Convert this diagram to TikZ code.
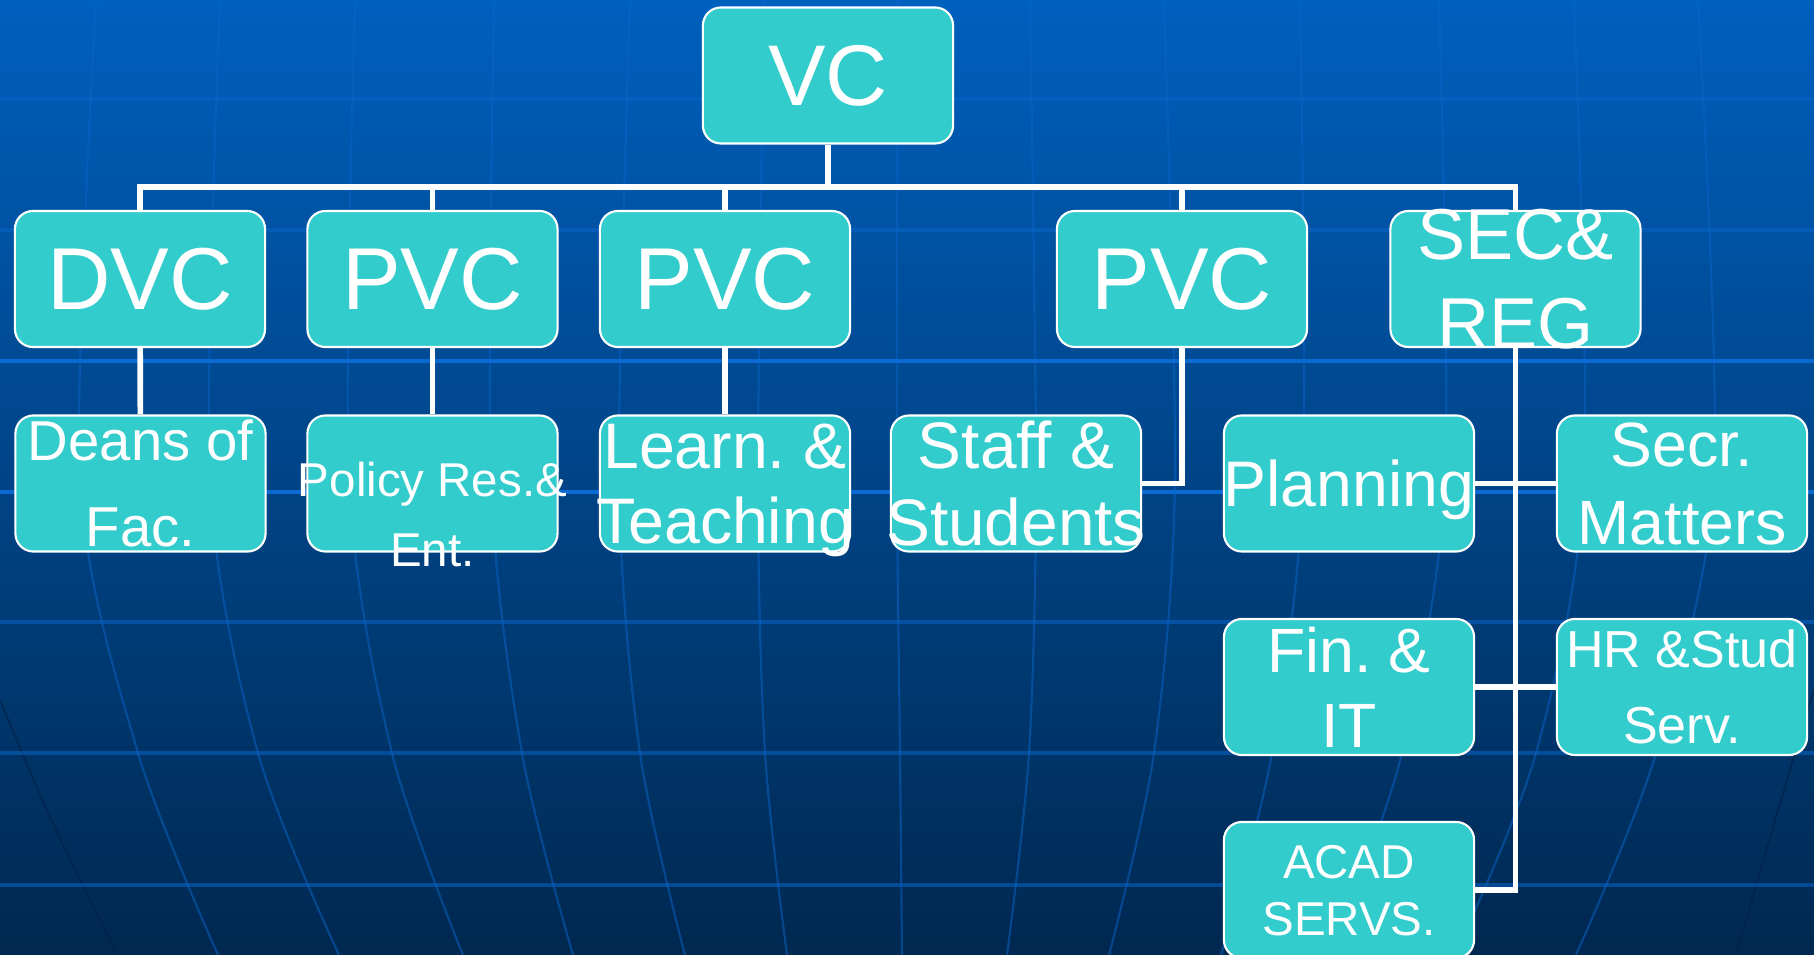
\documentclass[tikz,border=0pt]{standalone}
\usepackage{fontspec}
\setmainfont{Liberation Sans}
\frenchspacing
\definecolor{boxfill}{HTML}{33CCCC}
\definecolor{bgtop}{HTML}{0060BE}
\definecolor{bgbot}{HTML}{002850}
\definecolor{gridln}{HTML}{0A64C8}
\definecolor{gridhi}{HTML}{0A6AD2}
\definecolor{rimln}{HTML}{00224A}
\begin{document}
\begin{tikzpicture}[x=0.01cm,y=-0.01cm,
  box/.style={draw=white,line width=0.6pt,fill=boxfill,rounded corners=0.18cm,
    minimum width=2.5cm,minimum height=1.36cm,inner sep=0pt},
  txt/.style={text=white,align=center,inner sep=0pt,text depth=0pt},
  link/.style={draw=white,line width=1.6pt},
  meridian/.style={gridln,opacity=0.5,line width=0.6pt},
  parallel/.style={gridln,opacity=0.55,line width=0.9pt}]
\useasboundingbox (0,0) rectangle (1814,955);
\shade[top color=bgtop,bottom color=bgbot] (0,0) rectangle (1814,955);
\foreach \a/\b/\c/\d in {96/80/138/218,220/210/258/339,355/349/392/463,
    494/491/522/573,630/619/640/685,764/758/765/787}{
  \draw[meridian] plot[smooth] coordinates {(\a,0) (\b,480) (\c,753) (\d,955)};
  \draw[meridian] plot[smooth] coordinates {({1794-\a},0) ({1794-\b},480) ({1794-\c},753) ({1794-\d},955)};
}
\draw[meridian] plot[smooth] coordinates {(897,0) (897,480) (900,753) (902,955)};
\draw[rimln,opacity=0.7,line width=0.5pt] (0,700) .. controls (50,820) .. (118,955);
\draw[rimln,opacity=0.7,line width=0.5pt] (1814,690) .. controls (1775,820) .. (1736,955);
\foreach \y in {99,230,622,753,885} \draw[parallel] (0,\y) -- (1814,\y);
\foreach \y in {361,492} \draw[gridhi,line width=1.1pt] (0,\y) -- (1814,\y);

\node[box] (vc) at (828,75.5) {};
\node[box] (dvc) at (140,279) {};
\node[box] (pvca) at (432.5,279) {};
\node[box] (pvcb) at (725,279) {};
\node[box] (pvcc) at (1182,279) {};
\node[box] (sec) at (1515.5,279) {};
\node[box] (deans) at (140.5,483.5) {};
\node[box] (pol) at (432.5,483.5) {};
\node[box] (learn) at (725,483.5) {};
\node[box] (staff) at (1016,483.5) {};
\node[box] (plan) at (1349,483.5) {};
\node[box] (secr) at (1682,483.5) {};
\node[box] (fin) at (1349,687) {};
\node[box] (hr) at (1682,687) {};
\node[box] (acad) at (1349,890) {};

\coordinate (bus) at (828,187);
\draw[link] (vc) -- (bus);
\draw[link] (dvc) |- (bus) -| (sec);
\foreach \n in {pvca,pvcb,pvcc} \draw[link] (\n) -- (\n |- bus);
\draw[link] (dvc) -- (deans);
\draw[link] (pvca) -- (pol);
\draw[link] (pvcb) -- (learn);
\draw[link] (pvcc) |- (staff);
\draw[link] (sec) |- (acad);
\draw[link] (plan) -- (secr);
\draw[link] (fin) -- (hr);

\node[txt,font=\fontsize{24.5}{29}\selectfont] (vct) at (vc) {VC};
\node[txt,font=\fontsize{25}{30}\selectfont] (dvct) at (dvc) {DVC};
\node[txt,font=\fontsize{25}{30}\selectfont] (pvcat) at (pvca) {PVC};
\node[txt,font=\fontsize{25}{30}\selectfont] (pvcbt) at (pvcb) {PVC};
\node[txt,font=\fontsize{25}{30}\selectfont] (pvcct) at (pvcc) {PVC};
\node[txt,font=\fontsize{20.5}{25.3}\selectfont] (sect) at (sec) {SEC\&\\REG};
\node[txt,font=\fontsize{16}{24.5}\selectfont] (deanst) at (deans) {Deans of\\Fac.};
\node[txt,font=\fontsize{13.5}{20}\selectfont] (polt) at (432.5,514) {Policy Res.\&\\Ent.};
\node[txt,font=\fontsize{18.3}{21.3}\selectfont] (learnt) at (learn) {Learn. \&\\Teaching};
\node[txt,font=\fontsize{18.7}{22}\selectfont] (stafft) at (staff) {Staff \&\\Students};
\node[txt,font=\fontsize{18.3}{22}\selectfont] (plant) at (plan) {Planning};
\node[txt,font=\fontsize{17.8}{22}\selectfont] (secrt) at (secr) {Secr.\\Matters};
\node[txt,font=\fontsize{17.8}{21.3}\selectfont] (fint) at (fin) {Fin. \&\\IT};
\node[txt,font=\fontsize{14.8}{21.6}\selectfont] (hrt) at (hr) {HR \&Stud\\Serv.};
\node[txt,font=\fontsize{13.5}{16.2}\selectfont] (acadt) at (acad) {ACAD\\SERVS.};
\end{tikzpicture}
\end{document}
